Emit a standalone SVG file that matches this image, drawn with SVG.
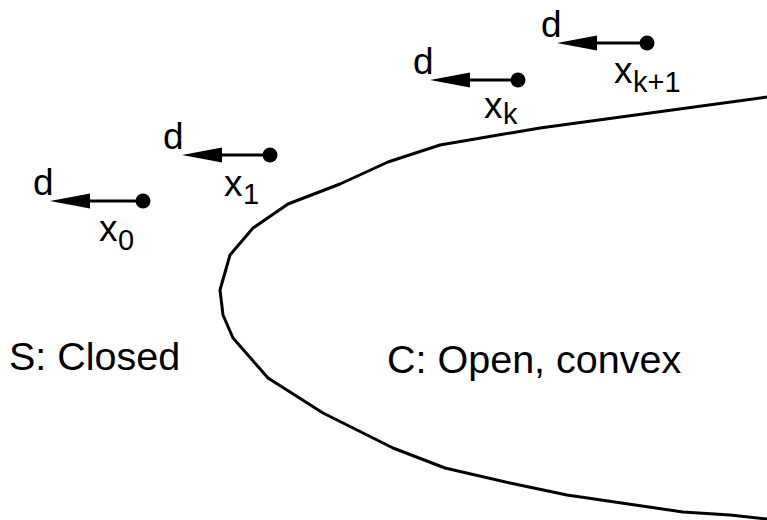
<svg xmlns="http://www.w3.org/2000/svg" width="767" height="520" viewBox="0 0 767 520">
<style>
text{font-family:"Liberation Sans",Arial,sans-serif;fill:#000}
.lbl{font-size:37px}
.sub{font-size:29px}
.big{font-size:39.5px}
.vec{stroke:#000;stroke-width:3;fill:none}
.curve{stroke:#000;stroke-width:3;fill:none;stroke-linejoin:round}
</style>
<defs>
<marker id="ah" markerUnits="userSpaceOnUse" viewBox="0 -8 41 16" refX="0" refY="0" markerWidth="41" markerHeight="16" orient="auto" overflow="visible">
<path d="M0,-7.5 L40,0 L0,7.5 Z" fill="#000"/>
</marker>
</defs>
<rect width="767" height="520" fill="#fff"/>
<g id="curve-C">
<polyline class="curve" points="767,97 540,128 440,145 388,162 340,184 288,204 253,228 230,255 220,290 223,315 233,338 268,378 323,413 393,448 445,468 510,483 567,495 683,512 730,515 767,519"/>
</g>
<g id="connectors">
<line class="vec" x1="143" y1="201" x2="90" y2="201" marker-end="url(#ah)"/>
<line class="vec" x1="270" y1="155" x2="222" y2="155" marker-end="url(#ah)"/>
<line class="vec" x1="518" y1="80" x2="470" y2="80" marker-end="url(#ah)"/>
<line class="vec" x1="647" y1="43" x2="597" y2="43" marker-end="url(#ah)"/>
</g>
<g id="x0">
<circle cx="143" cy="201" r="7.5"/>
<text class="lbl" x="33" y="195">d</text>
<text class="lbl" x="99" y="241">x</text><text class="sub" x="118" y="250">0</text>
</g>
<g id="x1">
<circle cx="270" cy="155" r="7.5"/>
<text class="lbl" x="163" y="149">d</text>
<text class="lbl" x="224" y="196">x</text><text class="sub" x="243" y="204">1</text>
</g>
<g id="xk">
<circle cx="518" cy="80" r="7.5"/>
<text class="lbl" x="413" y="74">d</text>
<text class="lbl" x="484" y="118">x</text><text class="sub" x="503" y="124">k</text>
</g>
<g id="xk1">
<circle cx="647" cy="43" r="7.5"/>
<text class="lbl" x="541" y="37">d</text>
<text class="lbl" x="614" y="83">x</text><text class="sub" x="633" y="92">k+1</text>
</g>
<g id="S">
<text class="big" x="9" y="370">S: Closed</text>
</g>
<g id="C">
<text class="big" x="387" y="373">C: Open, convex</text>
</g>
</svg>
